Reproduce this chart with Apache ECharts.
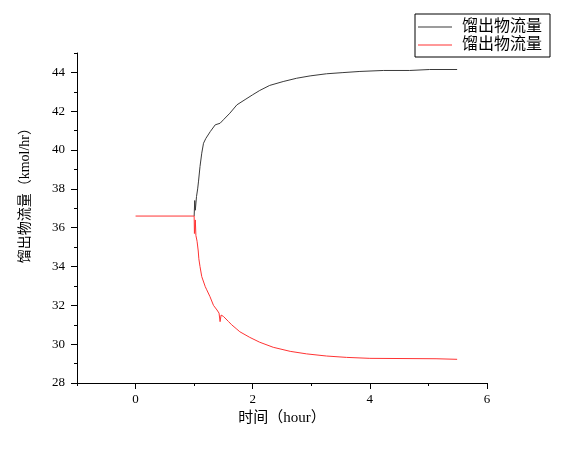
<!DOCTYPE html>
<html>
<head>
<meta charset="utf-8">
<script src="https://cdn.jsdelivr.net/npm/echarts@6/dist/echarts.min.js"></script>
<style>html,body{margin:0;padding:0;background:#fff;}#c{width:569px;height:455px;}</style>
</head>
<body>
<div id="c"></div>
<script>
const legendNames = ['馏出物流量', '馏出物流量 '];
const xAxisTitle = '时间（hour）';
const yAxisTitle = '馏出物流量（kmol/hr）';
const xMajorTicks = [0, 2, 4, 6];
const xMinorTicks = [-1, 1, 3, 5];
const yMajorTicks = [28, 30, 32, 34, 36, 38, 40, 42, 44];
const yMinorTicks = [29, 31, 33, 35, 37, 39, 41, 43, 45];

// black series (time, flow)
const blackTime = [1.0, 1.01, 1.02, 1.04, 1.06, 1.075, 1.1, 1.13, 1.16, 1.2, 1.275, 1.36, 1.443, 1.5, 1.61, 1.73, 1.87, 2.0, 2.12, 2.29, 2.52, 2.75, 2.98, 3.26, 3.54, 3.83, 4.23, 4.68, 5.02, 5.49];
const blackFlow = [36.6, 37.4, 36.9, 37.6, 38.0, 38.4, 39.15, 39.84, 40.35, 40.6, 40.95, 41.3, 41.38, 41.56, 41.9, 42.33, 42.6, 42.85, 43.07, 43.33, 43.53, 43.7, 43.82, 43.93, 43.99, 44.05, 44.1, 44.1, 44.15, 44.15];

// red series (time, flow)
const redTime = [0, 1.0, 1.005, 1.02, 1.03, 1.05, 1.07, 1.08, 1.1, 1.13, 1.19, 1.215, 1.27, 1.33, 1.39, 1.425, 1.443, 1.46, 1.5, 1.585, 1.64, 1.73, 1.78, 1.95, 2.12, 2.35, 2.64, 2.92, 3.26, 3.6, 4.0, 5.13, 5.49];
const redFlow = [36.6, 36.6, 35.7, 36.4, 35.6, 35.3, 34.8, 34.4, 34.0, 33.48, 32.96, 32.8, 32.45, 32.0, 31.76, 31.6, 31.16, 31.5, 31.43, 31.17, 31.0, 30.77, 30.64, 30.35, 30.1, 29.84, 29.63, 29.5, 29.39, 29.32, 29.27, 29.25, 29.22];

const FONT = '"Liberation Serif", "Noto Sans CJK SC", serif';
const chart = echarts.init(document.getElementById('c'));
const zip = (a, b) => a.map((v, i) => [v, b[i]]);

chart.setOption({
  animation: false,
  backgroundColor: '#fff',
  grid: { left: 77, top: 53, right: 82, bottom: 72, containLabel: false },
  legend: {
    orient: 'vertical',
    left: 415, top: 14,
    padding: [5, 4, 4, 3],
    borderColor: '#000', borderWidth: 1,
    icon: 'rect',
    itemWidth: 34, itemHeight: 1, itemGap: 2,
    textStyle: { fontFamily: FONT, fontSize: 16, lineHeight: 16, color: '#000', padding: [0, 0, 0, 5] },
    data: legendNames
  },
  xAxis: [
    {
      type: 'value', min: -1, max: 6, position: 'bottom',
      name: xAxisTitle, nameLocation: 'middle', nameGap: 27,
      nameTextStyle: { fontFamily: FONT, fontSize: 15, color: '#000' },
      axisLine: { show: true, onZero: false, lineStyle: { color: '#000', width: 1 } },
      axisTick: { show: true, length: 6, inside: false, customValues: xMajorTicks, lineStyle: { color: '#000' } },
      axisLabel: { show: true, margin: 10, customValues: xMajorTicks, fontFamily: FONT, fontSize: 13, color: '#000' },
      splitLine: { show: false }
    },
    {
      type: 'value', min: -1, max: 6, position: 'bottom',
      axisLine: { show: false, onZero: false },
      axisTick: { show: true, length: 3, inside: false, customValues: xMinorTicks, lineStyle: { color: '#000' } },
      axisLabel: { show: false },
      splitLine: { show: false }
    }
  ],
  yAxis: [
    {
      type: 'value', min: 28, max: 45, position: 'left',
      axisLine: { show: true, onZero: false, lineStyle: { color: '#000', width: 1 } },
      axisTick: { show: true, length: 6, inside: false, customValues: yMajorTicks, lineStyle: { color: '#000' } },
      axisLabel: { show: true, margin: 12, customValues: yMajorTicks, fontFamily: FONT, fontSize: 13, color: '#000' },
      splitLine: { show: false }
    },
    {
      type: 'value', min: 28, max: 45, position: 'left',
      axisLine: { show: false, onZero: false },
      axisTick: { show: true, length: 3, inside: false, customValues: yMinorTicks, lineStyle: { color: '#000' } },
      axisLabel: { show: false },
      splitLine: { show: false }
    }
  ],
  graphic: [{
    type: 'text', left: 18, top: 121,
    rotation: Math.PI / 2,
    style: { text: yAxisTitle, fontFamily: FONT, fontSize: 14, fill: '#000' }
  }],
  series: [
    {
      name: legendNames[0], type: 'line', symbol: 'none', xAxisIndex: 0, yAxisIndex: 0,
      lineStyle: { color: '#3a3a3a', width: 1 }, itemStyle: { color: '#3a3a3a' },
      data: zip(blackTime, blackFlow)
    },
    {
      name: legendNames[1], type: 'line', symbol: 'none', xAxisIndex: 0, yAxisIndex: 0,
      lineStyle: { color: '#f33', width: 1 }, itemStyle: { color: '#f33' },
      data: zip(redTime, redFlow)
    }
  ]
});
</script>
</body>
</html>
